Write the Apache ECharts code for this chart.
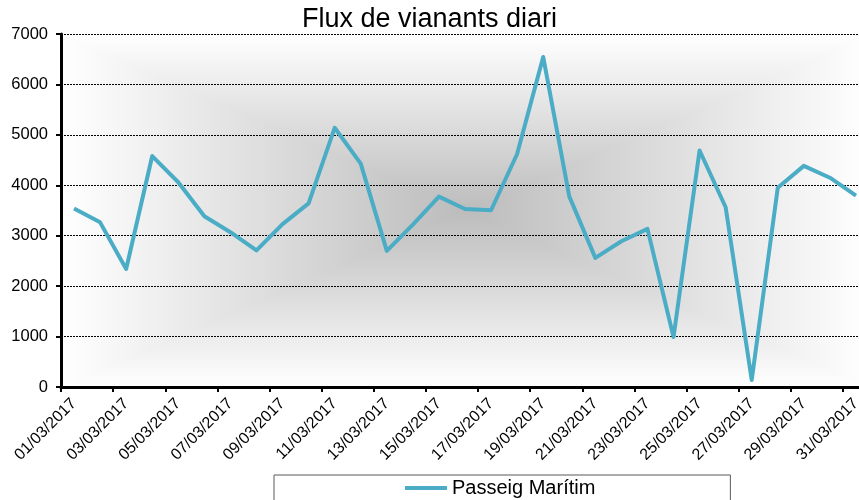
<!DOCTYPE html>
<html>
<head>
<meta charset="utf-8">
<script src="https://cdn.jsdelivr.net/npm/echarts@6/dist/echarts.min.js"></script>
<style>
  html, body { margin: 0; padding: 0; background: #fff; }
  #chart { width: 859px; height: 500px; }
</style>
</head>
<body>
<div id="chart"></div>
<script>
// dades
const dates = [
  "01/03/2017", "02/03/2017", "03/03/2017", "04/03/2017", "05/03/2017",
  "06/03/2017", "07/03/2017", "08/03/2017", "09/03/2017", "10/03/2017",
  "11/03/2017", "12/03/2017", "13/03/2017", "14/03/2017", "15/03/2017",
  "16/03/2017", "17/03/2017", "18/03/2017", "19/03/2017", "20/03/2017",
  "21/03/2017", "22/03/2017", "23/03/2017", "24/03/2017", "25/03/2017",
  "26/03/2017", "27/03/2017", "28/03/2017", "29/03/2017", "30/03/2017",
  "31/03/2017"
];
const passeigMaritim = [
  3540, 3265, 2340, 4580, 4060, 3385, 3070, 2710, 3230, 3640,
  5140, 4430, 2700, 3220, 3775, 3530, 3505, 4620, 6545, 3780,
  2560, 2890, 3135, 990, 4690, 3565, 140, 3950, 4385, 4150,
  3795
];
const seriesName = "Passeig Marítim";
const yMin = 0;
const yMax = 7000;
const yStep = 1000;

const FONT = "Liberation Sans, Arial, sans-serif";
const gridLeft = 61;
const gridTop = 34;
const plotW = 808; // la graella continua una mica més enllà de la vora dreta
const plotH = 353;

// degradat rectangular des del centre (gris al mig, blanc a les vores)
function makeBackground(w, h) {
  const c = document.createElement("canvas");
  c.width = w;
  c.height = h;
  const ctx = c.getContext("2d");
  const img = ctx.createImageData(w, h);
  const cx = w / 2, cy = h / 2;
  const dark = 188, light = 255;
  for (let y = 0; y < h; y++) {
    for (let x = 0; x < w; x++) {
      const t = Math.min(1, Math.max(Math.abs(x - cx) / cx, Math.abs(y - cy) / cy));
      const v = Math.round(dark + (light - dark) * t);
      const i = (y * w + x) * 4;
      img.data[i] = v;
      img.data[i + 1] = v;
      img.data[i + 2] = v;
      img.data[i + 3] = 255;
    }
  }
  ctx.putImageData(img, 0, 0);
  return c;
}

const chart = echarts.init(document.getElementById("chart"), null, { renderer: "canvas" });

const option = {
  animation: false,
  backgroundColor: "#fff",
  textStyle: { fontFamily: FONT },
  title: {
    text: "Flux de vianants diari",
    left: "center",
    top: 1,
    textStyle: { fontFamily: FONT, fontSize: 27, fontWeight: "normal", color: "#000" }
  },
  graphic: [
    {
      type: "image",
      left: gridLeft,
      top: gridTop,
      z: -10,
      silent: true,
      style: { image: makeBackground(plotW, plotH), width: plotW, height: plotH }
    }
  ],
  grid: {
    left: gridLeft,
    top: gridTop,
    width: plotW,
    height: plotH,
    containLabel: false,
    outerBoundsMode: "none"
  },
  legend: {
    data: [{ name: seriesName, icon: "rect" }],
    left: 274,
    top: 475,
    padding: [3, 135, 8, 131],
    borderColor: "#595959",
    borderWidth: 1,
    itemWidth: 42,
    itemHeight: 4,
    textStyle: { fontFamily: FONT, fontSize: 20, color: "#000" }
  },
  xAxis: {
    type: "category",
    data: dates,
    boundaryGap: true,
    axisLine: { lineStyle: { color: "#000", width: 3 } },
    axisTick: { show: true, interval: 1, length: 5, lineStyle: { color: "#000", width: 2 } },
    axisLabel: {
      interval: 1,
      rotate: 45,
      margin: 14,
      fontSize: 16,
      color: "#000",
      fontFamily: FONT
    },
    splitLine: { show: false }
  },
  yAxis: {
    type: "value",
    min: yMin,
    max: yMax,
    interval: yStep,
    axisLine: { show: true, lineStyle: { color: "#000", width: 3 } },
    axisTick: { show: true, length: 5, lineStyle: { color: "#000", width: 2 } },
    axisLabel: {
      margin: 13,
      fontSize: 16.5,
      color: "#000",
      fontFamily: FONT,
      formatter: (v) => String(v)
    },
    splitLine: { show: true, lineStyle: { color: "#000", width: 1, type: [2, 1] } }
  },
  series: [
    {
      name: seriesName,
      type: "line",
      data: passeigMaritim,
      symbol: "none",
      color: "#4bacc6",
      lineStyle: { color: "#4bacc6", width: 4, join: "round" },
      z: 3
    }
  ]
};

chart.setOption(option);
</script>
</body>
</html>
